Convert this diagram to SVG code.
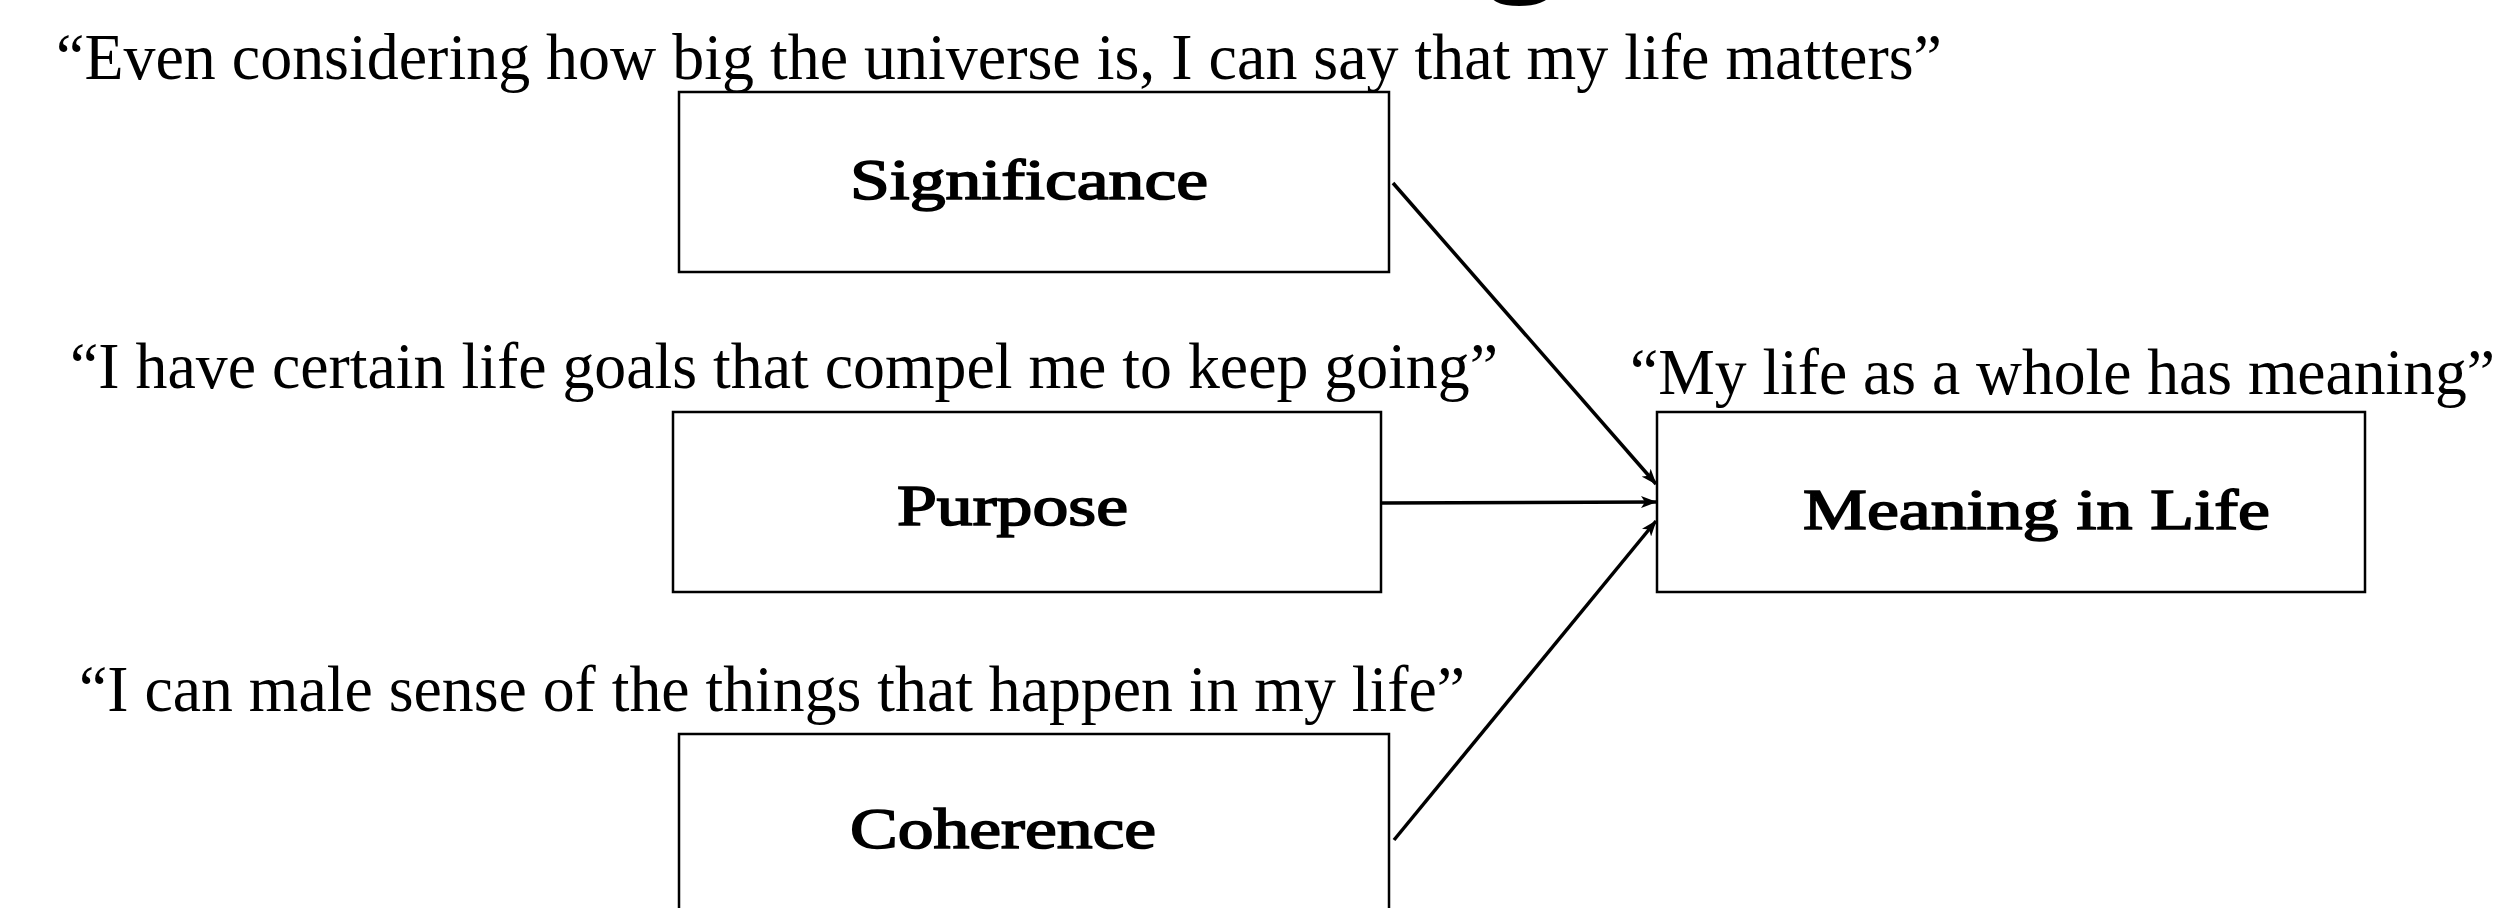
<svg xmlns="http://www.w3.org/2000/svg" width="2500" height="908" viewBox="0 0 2500 908">
<style>
.box{fill:#fff;stroke:#000;stroke-width:2.5}
.quote{font-family:"Liberation Serif","Times New Roman",serif;font-size:65px;fill:#000}
.label{font-family:"Liberation Serif","Times New Roman",serif;font-size:57px;font-weight:normal;fill:#000;stroke:#000;stroke-width:1.6}
.conn{stroke:#000;stroke-width:3.5;fill:none;marker-end:url(#arrow)}
</style>
<defs>
<marker id="arrow" markerUnits="userSpaceOnUse" markerWidth="16" markerHeight="12" refX="15" refY="6" orient="auto">
<path d="M0,0 L16,6 L0,12 L4,6 z" fill="#000"/>
</marker>
</defs>
<rect width="2500" height="908" fill="#fff"/>
<text x="1484" y="-27" font-family="Liberation Serif, serif" font-weight="bold" font-size="150">g</text>
<g id="quotes">
<text class="quote" x="56" y="79" textLength="1886" lengthAdjust="spacingAndGlyphs">“Even considering how big the universe is, I can say that my life matters”</text>
<text class="quote" x="70" y="388" textLength="1428" lengthAdjust="spacingAndGlyphs">“I have certain life goals that compel me to keep going”</text>
<text class="quote" x="79" y="711" textLength="1386" lengthAdjust="spacingAndGlyphs">“I can male sense of the things that happen in my life”</text>
<text class="quote" x="1630" y="394" textLength="865" lengthAdjust="spacingAndGlyphs">“My life as a whole has meaning”</text>
</g>
<g id="node-significance">
<rect class="box" x="679" y="92" width="710" height="180"/>
<text class="label" x="850" y="199" textLength="358" lengthAdjust="spacingAndGlyphs">Significance</text>
</g>
<g id="node-purpose">
<rect class="box" x="673" y="412" width="708" height="180"/>
<text class="label" x="897" y="525" textLength="231" lengthAdjust="spacingAndGlyphs">Purpose</text>
</g>
<g id="node-coherence">
<rect class="box" x="679" y="734" width="710" height="200"/>
<text class="label" x="850" y="848" textLength="306" lengthAdjust="spacingAndGlyphs">Coherence</text>
</g>
<g id="node-meaning">
<rect class="box" x="1657" y="412" width="708" height="180"/>
<text class="label" x="1803" y="529" textLength="467" lengthAdjust="spacingAndGlyphs">Meaning in Life</text>
</g>
<g id="connectors">
<line class="conn" x1="1393" y1="183" x2="1656" y2="484"/>
<line class="conn" x1="1382" y1="503" x2="1656" y2="502"/>
<line class="conn" x1="1394" y1="840" x2="1656" y2="521"/>
</g>
</svg>
